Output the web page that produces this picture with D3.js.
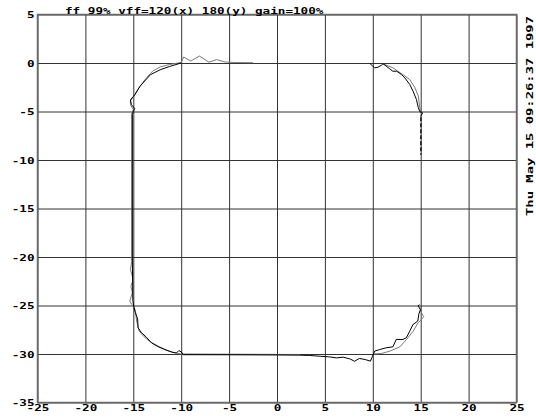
<!DOCTYPE html>
<html>
<head>
<meta charset="utf-8">
<script src="https://cdn.jsdelivr.net/npm/d3@7"></script>
<style>
  html, body { margin: 0; padding: 0; background: #fff; }
  svg { display: block; }
  text { font-family: "DejaVu Sans Mono", "Liberation Mono", monospace; font-weight: bold; fill: #000; }
</style>
</head>
<body>
<svg id="chart" width="536" height="418"></svg>
<script>
// Axis ticks
const xTicks = [-25, -20, -15, -10, -5, 0, 5, 10, 15, 20, 25];
const yTicks = [5, 0, -5, -10, -15, -20, -25, -30, -35];

// Header and time stamp
const titleText = "ff 99% vff=120(x) 180(y) gain=100%";
const stampText = "Thu May 15 09:26:37 1997";

// Recorded path, first pass (x, y); null breaks the line
const traceDark = [
  [9.7, -0.05], [10.0, -0.33], [10.2, -0.5], [10.55, -0.43], [10.9, -0.23], [11.07, -0.08],
  [11.77, -0.6], [12.1, -0.85], [12.5, -0.85], [13.0, -1.2], [13.35, -1.55], [13.85, -2.2],
  [14.2, -2.9], [14.55, -3.75], [14.75, -4.6], [14.9, -5.0], [15.2, -5.15], [15.0, -5.5],
  null,
  [-10.0, 0.0], [-11.2, -0.35], [-12.2, -0.7], [-13.2, -1.2], [-13.8, -1.85], [-14.3, -2.4],
  [-14.8, -3.2], [-15.0, -3.45], [-15.3, -3.8], [-15.2, -4.3], [-14.85, -4.7], [-15.0, -5.0],
  [-15.1, -5.3], [-15.1, -10.0], [-15.1, -20.0], [-15.05, -24.5], [-14.95, -25.1],
  [-14.8, -25.7], [-14.55, -26.4], [-14.5, -27.3], [-14.15, -27.8], [-13.6, -28.3],
  [-13.1, -28.85], [-12.4, -29.25], [-11.7, -29.55], [-11.0, -29.8], [-10.5, -29.9],
  [-10.25, -29.65], [-9.97, -29.8], [-9.8, -30.07], [-5.0, -30.08], [0.0, -30.1],
  [2.4, -30.12], [3.4, -30.15], [4.5, -30.23], [5.5, -30.3], [6.2, -30.4], [6.9, -30.33],
  [7.6, -30.5], [8.1, -30.75], [8.6, -30.46], [9.2, -30.57], [9.75, -30.74], [9.97, -30.23],
  [10.2, -29.7], [10.7, -29.55], [11.4, -29.36], [12.1, -29.26], [12.45, -28.5], [13.15, -28.5],
  [13.5, -28.33], [13.85, -27.65], [14.2, -26.96], [14.7, -26.6], [14.8, -25.9], [14.98, -25.4],
  [14.73, -25.07], [14.85, -24.9]
];

// Recorded path, second pass
const traceGray = [
  [-2.5, 0.03], [-4.4, 0.05], [-5.4, 0.1], [-6.3, 0.35], [-7.1, 0.08], [-8.1, 0.72],
  [-9.0, 0.2], [-9.75, 0.62], [-10.0, 0.05], [-11.2, -0.15], [-12.2, -0.4], [-13.0, -0.85],
  [-13.6, -1.5], [-14.0, -2.0], [-14.5, -2.7], [-14.9, -3.4], [-15.3, -3.9], [-15.25, -4.4],
  [-15.0, -4.8], [-15.17, -5.2], [-15.17, -20.5], [-15.3, -21.3], [-15.0, -22.3], [-15.25, -23.0],
  [-15.1, -23.7], [-15.37, -24.56], [-15.15, -24.9], [-14.9, -25.2], [-14.77, -25.6],
  [-14.65, -26.6], [-14.4, -27.6], [-13.9, -28.2], [-13.3, -28.7], [-12.4, -29.2],
  [-11.5, -29.6], [-10.8, -29.85], [-10.0, -30.0], [2.4, -30.05],
  null,
  [10.0, -30.0], [10.9, -29.95], [11.77, -29.71], [12.82, -29.26], [13.52, -28.51],
  [14.21, -27.65], [14.73, -26.78], [15.08, -26.44], [15.32, -26.16], [15.08, -25.75],
  [14.91, -25.34], [15.0, -25.0],
  null,
  [11.07, -0.08], [12.1, -0.5], [13.15, -1.2], [13.85, -1.7], [14.4, -2.55], [14.75, -3.4],
  [14.9, -4.6], [15.0, -5.0]
];

// Short stretch along the right edge, drawn broken
const traceRightEdge = [[15.02, -5.6], [15.02, -9.45]];

const svg = d3.select("#chart");
const plot = { left: 37.5, right: 516.5, top: 14.5, bottom: 402.5 };
const W = plot.right - plot.left, H = plot.bottom - plot.top;

const x = d3.scaleLinear().domain([-25, 25]).range([plot.left, plot.right]);
const y = d3.scaleLinear().domain([-35, 5]).range([plot.bottom, plot.top]);

// Stretch monospace glyphs to the wide plotter lettering
const CHAR_W = 7.6;
function widen(sel) {
  sel.attr("textLength", function () { return this.textContent.length * CHAR_W; })
     .attr("lengthAdjust", "spacingAndGlyphs");
}

// Vertical grid + x labels
const gx = svg.append("g")
  .attr("transform", `translate(0,${plot.bottom})`)
  .call(d3.axisBottom(x).tickValues(xTicks).tickSize(-H).tickPadding(4).tickFormat(d => String(d)));
gx.select(".domain").remove();
gx.selectAll(".tick line").attr("stroke", "#333").attr("stroke-width", 1);
gx.selectAll(".tick text").attr("font-size", 9.5).attr("dy", "0.5em").call(widen);

// Horizontal grid + y labels
const gy = svg.append("g")
  .attr("transform", `translate(${plot.left},0)`)
  .call(d3.axisLeft(y).tickValues(yTicks).tickSize(-W).tickPadding(3).tickFormat(d => String(d)));
gy.select(".domain").remove();
gy.selectAll(".tick line").attr("stroke", "#333").attr("stroke-width", 1);
gy.selectAll(".tick text").attr("font-size", 9.5).attr("dy", "0.36em").call(widen);

// Frame
svg.append("rect")
  .attr("x", plot.left).attr("y", plot.top)
  .attr("width", W).attr("height", H)
  .attr("fill", "none").attr("stroke", "#6a6a6a").attr("stroke-width", 1.5);

// Paths
const line = d3.line().defined(d => d !== null).x(d => x(d[0])).y(d => y(d[1]));

svg.append("path").datum(traceGray)
  .attr("d", line).attr("fill", "none").attr("stroke", "#7a7a7a").attr("stroke-width", 1);
svg.append("path").datum(traceDark)
  .attr("d", line).attr("fill", "none").attr("stroke", "#000").attr("stroke-width", 1);
svg.append("path").datum(traceRightEdge)
  .attr("d", line).attr("fill", "none").attr("stroke", "#000").attr("stroke-width", 1.3)
  .attr("stroke-dasharray", "4,2");

// Header
svg.append("text")
  .attr("x", 65).attr("y", 13.5)
  .attr("font-size", 9.5)
  .text(titleText)
  .call(widen);

// Time stamp along the right side
svg.append("text")
  .attr("transform", "translate(533,16) rotate(-90)")
  .attr("text-anchor", "end")
  .attr("font-size", 9.5)
  .text(stampText)
  .attr("textLength", 200)
  .attr("lengthAdjust", "spacingAndGlyphs");
</script>
</body>
</html>
